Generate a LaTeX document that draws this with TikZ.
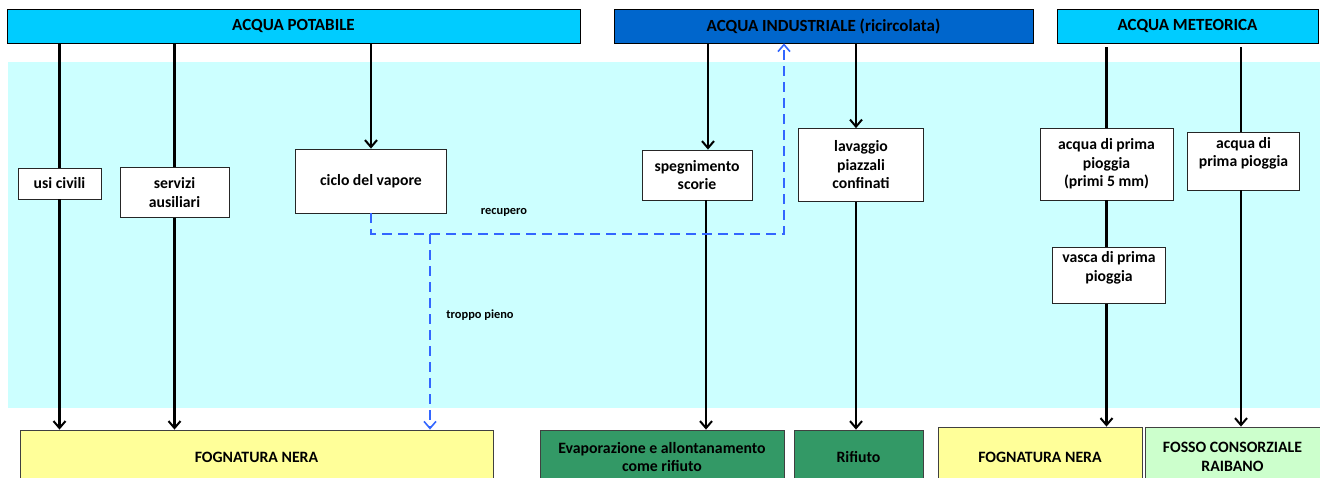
\documentclass[tikz,border=0pt]{standalone}
\usepackage{fontspec}
\setmainfont{Carlito}
\usetikzlibrary{arrows.meta, positioning, calc}
\definecolor{potcyan}{RGB}{0, 204, 255}
\definecolor{indblue}{RGB}{0, 102, 204}
\definecolor{zonecyan}{RGB}{204, 255, 255}
\definecolor{sinkyellow}{RGB}{255, 255, 153}
\definecolor{sinkgreen}{RGB}{51, 153, 102}
\definecolor{sinklight}{RGB}{204, 255, 204}
\definecolor{dashblue}{RGB}{51, 102, 255}

\begin{document}
\begin{tikzpicture}[x=1pt, y=-1pt,
        source/.style={rectangle, draw, line width=0.8pt, minimum height=34pt, inner sep=0pt, font=\fontsize{17}{20}\selectfont\bfseries},
        use/.style={rectangle, draw=black!85, fill=white, line width=0.8pt, inner sep=0pt, align=center, font=\fontsize{15.7}{18.5}\selectfont\bfseries},
        sink/.style={rectangle, draw=black!75, line width=0.8pt, minimum height=54pt, inner sep=0pt, align=center, font=\fontsize{15.8}{18.5}\selectfont\bfseries},
        note/.style={inner sep=0pt, font=\fontsize{12.4}{14}\selectfont\bfseries},
        line/.style={line width=2.2pt},
        arrow/.style={line, -{Straight Barb[length=7pt, width=12pt, line width=2pt]}},
        back/.style={line width=2.5pt, dashblue, dash pattern=on 10pt off 6pt, -{Straight Barb[length=7pt, width=12pt, line width=1.6pt]}}
    ]
        \useasboundingbox (0,0) rectangle (1320,477);
        \fill[zonecyan] (8,62) rectangle (1320,408);

        % sorgenti
        \node[source, fill=potcyan, minimum width=573pt] (potabile) at (293.5,26) {ACQUA POTABILE};
        \node[source, fill=indblue, minimum width=419pt] (industriale) at (823.5,26) {ACQUA INDUSTRIALE (ricircolata)};
        \node[source, fill=potcyan, minimum width=261pt] (meteorica) at (1187.5,26) {ACQUA METEORICA};

        % utilizzi
        \node[use, minimum width=83pt, minimum height=31pt] (civili) at (59.5,183.5) {usi civili};
        \node[use, minimum width=109pt, minimum height=50pt] (ausiliari) at (174.5,192.5) {servizi\\ausiliari};
        \node[use, minimum width=151pt, minimum height=64pt] (vapore) at (371,181) {ciclo del vapore};
        \node[use, minimum width=110pt, minimum height=50pt] (scorie) at (697,175) {spegnimento\\scorie};
        \node[use, minimum width=125pt, minimum height=73pt] (piazzali) at (861,165) {lavaggio\\piazzali\\confinati};
        \node[use, minimum width=133pt, minimum height=72pt] (primi) at (1106.5,164) {acqua di prima\\pioggia\\(primi 5 mm)};
        \node[use, minimum width=112pt, minimum height=58pt] (pioggia) at (1243.5,161) {acqua di\\prima pioggia\\\mbox{}};
        \node[use, minimum width=113pt, minimum height=56pt] (vasca) at (1109,275.5) {vasca di prima\\pioggia\\\mbox{}};

        % recapiti
        \node[sink, fill=sinkyellow, minimum width=473pt] (nera) at (256.5,457) {FOGNATURA NERA};
        \node[sink, fill=sinkgreen, minimum width=244pt] (evap) at (662,457) {Evaporazione e allontanamento\\come rifiuto};
        \node[sink, fill=sinkgreen, minimum width=129pt] (rifiuto) at (858.5,457) {Rifiuto};
        \node[sink, fill=sinkyellow, minimum width=204pt, minimum height=60pt] (neradue) at (1040,457) {FOGNATURA NERA};
        \node[sink, fill=sinklight, minimum width=175pt, minimum height=60pt] (fosso) at (1232.5,457) {FOSSO CONSORZIALE\\RAIBANO};

        % acqua potabile
        \draw[line] (civili.north |- potabile.south) -- (civili.north);
        \draw[arrow] (civili.south) -- (civili.south |- nera.north);
        \draw[line] (ausiliari.north |- potabile.south) -- (ausiliari.north);
        \draw[arrow] (ausiliari.south) -- (ausiliari.south |- nera.north);
        \draw[arrow] (vapore.north |- potabile.south) -- (vapore.north);

        % acqua industriale
        \draw[arrow] ([xshift=11pt]scorie.north |- industriale.south) -- ([xshift=11pt]scorie.north);
        \draw[arrow] ([xshift=9pt]scorie.south) -- ([xshift=9pt]scorie.south |- evap.north);
        \draw[arrow] ([xshift=-5pt]piazzali.north |- industriale.south) -- ([xshift=-5pt]piazzali.north);
        \draw[arrow] ([xshift=-5pt]piazzali.south) -- ([xshift=-5pt]piazzali.south |- rifiuto.north);

        % acqua meteorica
        \draw[line, shorten <=4pt] (primi.north |- meteorica.south) -- (primi.north);
        \draw[line] (primi.south) -- (primi.south |- vasca.north);
        \draw[arrow] (primi.south |- vasca.south) -- (primi.south |- neradue.north);
        \draw[line, shorten <=4pt] ([xshift=-2.5pt]pioggia.north |- meteorica.south) -- ([xshift=-2.5pt]pioggia.north);
        \draw[arrow] ([xshift=-2.5pt]pioggia.south) -- ([xshift=-2.5pt]pioggia.south |- fosso.north);

        % recupero e troppo pieno
        \coordinate (ritorno) at (784,234);
        \coordinate (sfioro) at (430,234);
        \draw[back] (vapore.south) |- (ritorno) -- (ritorno |- industriale.south);
        \draw[back] (sfioro) -- (sfioro |- nera.north);
        \node[note] (recupero) at (504,212) {recupero};
        \node[note] (troppo) at (480,315) {troppo pieno};
    \end{tikzpicture}
\end{document}
